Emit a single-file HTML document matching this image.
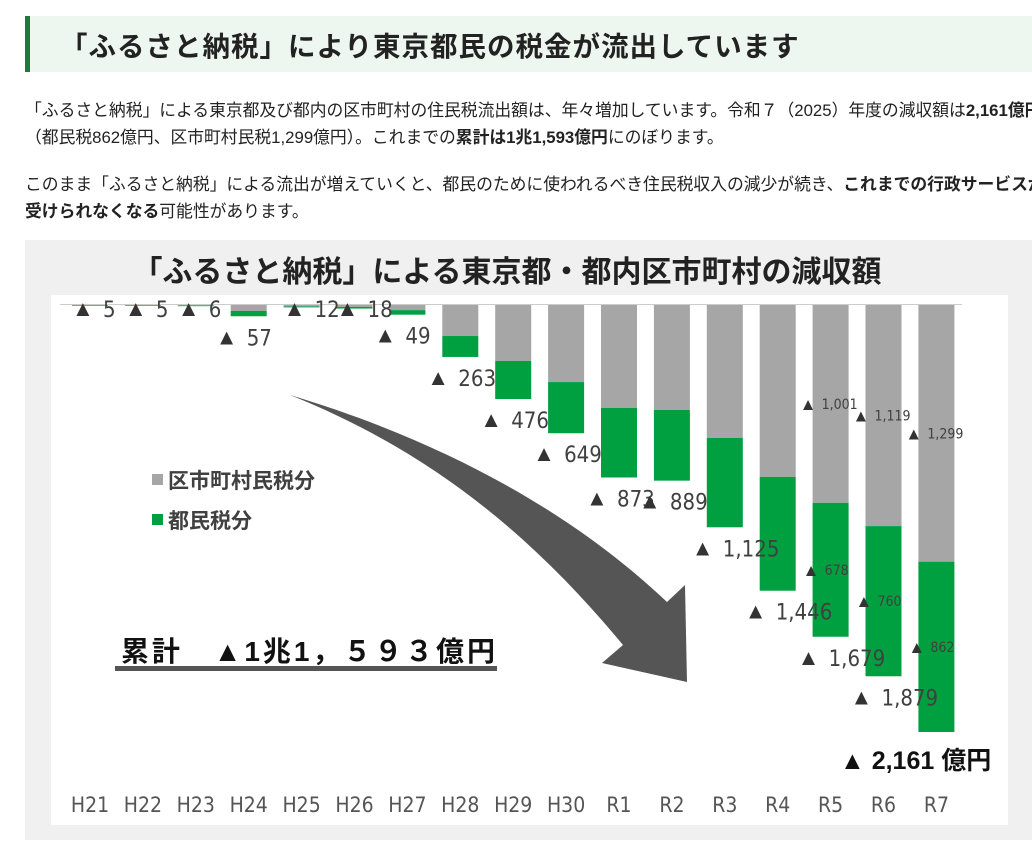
<!DOCTYPE html>
<html><head><meta charset="utf-8">
<style>
body{margin:0;width:1032px;height:849px;overflow:hidden;background:#fff;font-family:"Liberation Sans","Noto Sans CJK JP",sans-serif;color:#222;position:relative}
.h{position:absolute;left:25px;top:16px;width:1007px;height:56px;background:#eef6f0;border-left:5px solid #1e7a3c;box-sizing:border-box}
.h span{position:absolute;left:30px;top:8px;font-size:27.5px;font-weight:bold;letter-spacing:1px;white-space:nowrap}
p{position:absolute;margin:0;font-size:16.8px;line-height:27px;white-space:nowrap;left:25px}
b{font-weight:bold}
.panel{position:absolute;left:25px;top:240px;width:1007px;height:600px;background:#f0f0f0}
.inner{position:absolute;left:51px;top:295px;width:957px;height:530px;background:#fff}
svg{position:absolute;left:0;top:0}
.n{font-family:"Liberation Sans Narrow","DejaVu Sans Condensed","Liberation Sans",sans-serif}
</style></head><body>
<div class="h"><span>「ふるさと納税」により東京都民の税金が流出しています</span></div>
<p style="top:97px">「ふるさと納税」による東京都及び都内の区市町村の住民税流出額は、年々増加しています。令和７（2025）年度の減収額は<b>2,161億円</b><br>（都民税862億円、区市町村民税1,299億円）。これまでの<b>累計は1兆1,593億円</b>にのぼります。</p>
<p style="top:171px">このまま「ふるさと納税」による流出が増えていくと、都民のために使われるべき住民税収入の減少が続き、<b>これまでの行政サービスが</b><br><b>受けられなくなる</b>可能性があります。</p>
<div class="panel"></div>
<div class="inner"></div>
<svg id="chart" width="1032" height="849">
<text x="507" y="282" text-anchor="middle" font-size="30" font-weight="bold" fill="#222">「ふるさと納税」による東京都・都内区市町村の減収額</text>
<line x1="60" y1="304.5" x2="962" y2="304.5" stroke="#ccc" stroke-width="1"/>
<path d="M290 395 C440 440 570 510 667 602 L685 585 L687 682 L602 663 L623 645 C540 545 440 455 290 395 Z" fill="#555"/>
<rect x="152" y="474" width="11" height="11" fill="#a6a6a6"/>
<text x="168" y="488" font-size="21" font-weight="600" fill="#404040">区市町村民税分</text>
<rect x="152" y="514" width="11" height="11" fill="#00a040"/>
<text x="168" y="528" font-size="21" font-weight="600" fill="#404040">都民税分</text>
<text x="121" y="661" font-size="28" font-weight="600" fill="#111" textLength="374">累計　▲1兆1，５９３億円</text>
<rect x="115" y="666" width="382" height="5" fill="#555"/>
<text x="840" y="769" font-size="25" font-weight="bold" fill="#111">▲ 2,161 億円</text>
<g id="bars"></g>
<g id="labels"></g>
</svg>
<script>
const categories=["H21","H22","H23","H24","H25","H26","H27","H28","H29","H30","R1","R2","R3","R4","R5","R6","R7"];
const municipal=[3,3,3,30,7,10,26,157,283,390,521,531,673,870,1001,1119,1299];
const metro=[2,2,3,27,5,8,23,106,193,259,352,358,452,576,678,760,862];
const totals=[5,5,6,57,12,18,49,263,476,649,873,889,1125,1446,1679,1879,2161];
const detailFrom=14;
const NS="http://www.w3.org/2000/svg";
const gb=document.getElementById('bars');
const gl=document.getElementById('labels');
const base=305, scale=427/2161, x0=90, step=52.9, bw=36;
const xc=i=>x0+i*step;
const y=v=>base+v*scale;
function mk(g,tag,attrs){const e=document.createElementNS(NS,tag);for(const k in attrs)e.setAttribute(k,attrs[k]);g.appendChild(e);return e;}
const fmt=n=>n.toLocaleString('en-US');
categories.forEach((c,i)=>{
  const l=xc(i)-bw/2;
  const r1=mk(gb,'rect',{x:l,y:base,width:bw,height:municipal[i]*scale,fill:'#a6a6a6'});
  
  
  const r2=mk(gb,'rect',{x:l,y:y(municipal[i]),width:bw,height:metro[i]*scale,fill:'#00a040'});
  
  
  const t=mk(gl,'text',{x:xc(i),y:812,'text-anchor':'middle','font-size':21,fill:'#555','class':'n'});
  t.textContent=c;
  
  
  if(i>=detailFrom){
    const ya=(base+y(municipal[i]))/2, yb=(y(municipal[i])+y(totals[i]))/2;
    const a1=mk(gl,'text',{x:l-13,y:ya+6,'font-size':17,fill:'#333'});
    a1.textContent='▲';
    
    
    const a=mk(gl,'text',{x:l+9,y:ya+5,'font-size':14,fill:'#404040','class':'n'});
    a.textContent=fmt(municipal[i]);
    
    
    const b1=mk(gl,'text',{x:l-10,y:yb+6,'font-size':17,fill:'#333'});
    b1.textContent='▲';
    
    
    const b=mk(gl,'text',{x:l+12,y:yb+5,'font-size':14,fill:'#404040','class':'n'});
    b.textContent=fmt(metro[i]);
    
    
  }
  if(i<categories.length-1){
    const tiny=totals[i]<30;
    const cy=tiny?base+3:y(totals[i])+20;
    const lx=tiny?l:l-15;
    const tri=mk(gl,'text',{x:lx,y:cy+8,'font-size':22,fill:'#333'});
    tri.textContent='▲';
    
    
    const v=mk(gl,'text',{x:lx+31,y:cy+9,'font-size':22,fill:'#404040','class':'n'});
    v.textContent=fmt(totals[i]);
    
    
  }
});
</script>
</body></html>
